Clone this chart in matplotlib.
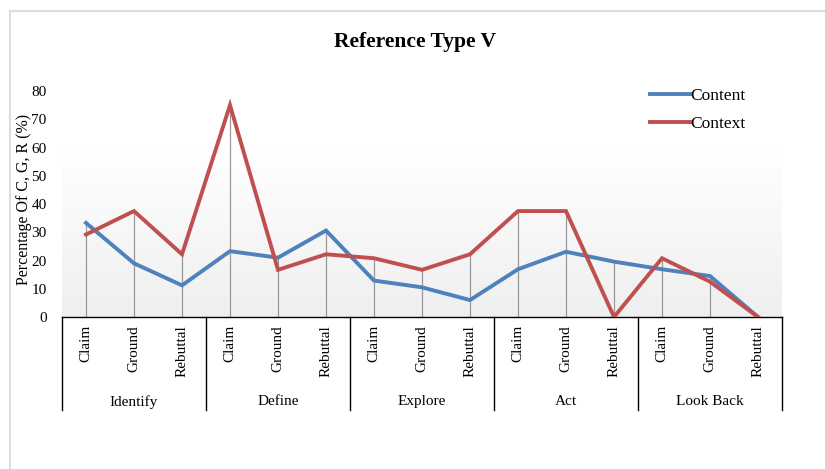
import numpy as np
import matplotlib.pyplot as plt
from matplotlib.lines import Line2D
from matplotlib import transforms

plt.rcParams["font.family"] = ["Liberation Serif", "DejaVu Serif"]

stages = ["Identify", "Define", "Explore", "Act", "Look Back"]
parts = ["Claim", "Ground", "Rebuttal"]

content = [33.3, 19.0, 11.2, 23.3, 21.0, 30.6, 12.9, 10.5, 6.0, 16.9, 23.1, 19.6, 16.9, 14.5, 0]
context = [29.2, 37.5, 22.2, 75.0, 16.7, 22.2, 20.8, 16.7, 22.2, 37.5, 37.5, 0, 20.8, 12.5, 0]

BLUE = "#4F81BD"
RED = "#C0504D"

fig = plt.figure(figsize=(8.25, 4.69), dpi=100)
ax = fig.add_axes([62 / 825, 1 - 317 / 469, 720 / 825, 226 / 469])

x = np.arange(len(content))

# soft gradient in the lower part of the plot area
grad = np.linspace(0, 1, 256).reshape(-1, 1)
ax.imshow(grad, extent=[0, 1, 0, 0.74], transform=ax.transAxes, aspect="auto",
          cmap=plt.matplotlib.colors.LinearSegmentedColormap.from_list("g", ["#efefef", "#ffffff"]),
          origin="lower", zorder=0)

# drop lines
top = np.maximum(content, context)
ax.vlines(x, 0, top, color="#999999", lw=0.9, zorder=1)

ax.plot(x, content, color=BLUE, lw=2.8, label="Content", zorder=3, solid_joinstyle="miter")
ax.plot(x, context, color=RED, lw=2.8, label="Context", zorder=3, solid_joinstyle="miter")

ax.set_xlim(-0.5, len(content) - 0.5)
ax.set_ylim(0, 80)
ax.set_yticks(range(0, 81, 10))
ax.tick_params(axis="y", length=0, labelsize=11, pad=11)
ax.set_xticks([])
for s in ["top", "right", "left"]:
    ax.spines[s].set_visible(False)
ax.spines["bottom"].set_color("black")
ax.spines["bottom"].set_linewidth(1.0)

ax.set_ylabel("Percentage Of C, G, R (%)", fontsize=11.5)
ax.yaxis.set_label_coords(-0.042, 0.52)

# category axis
tr = transforms.blended_transform_factory(ax.transData, ax.transAxes)
for i in x:
    ax.text(i, -0.035, parts[i % 3], rotation=90, ha="center", va="top",
            fontsize=11, transform=tr)
for g, name in enumerate(stages):
    ax.text(3 * g + 1, -0.375, name, ha="center", va="center", fontsize=11, transform=tr)
for b in range(len(stages) + 1):
    ax.add_line(Line2D([3 * b - 0.5] * 2, [0, -0.41], transform=tr, color="black",
                       lw=1.0, clip_on=False))

fig.suptitle("Reference Type V", x=415 / 825, y=1 - 42 / 469, va="center",
             fontsize=15.5, fontweight="bold")

ax.legend(loc="upper left", bbox_to_anchor=(650 / 825, 1 - 88 / 469),
          bbox_transform=fig.transFigure, frameon=False, fontsize=12.5,
          handlelength=2.3, handletextpad=0.02, labelspacing=0.7,
          borderpad=0, borderaxespad=0)

# page frame
fig.add_artist(Line2D([10 / 825, 10 / 825], [0, 1 - 11 / 469], transform=fig.transFigure,
                      color="#dddddd", lw=1.5))
fig.add_artist(Line2D([10 / 825, 1], [1 - 11 / 469] * 2, transform=fig.transFigure,
                      color="#dddddd", lw=1.5))

fig.savefig("out.png", dpi=100)
